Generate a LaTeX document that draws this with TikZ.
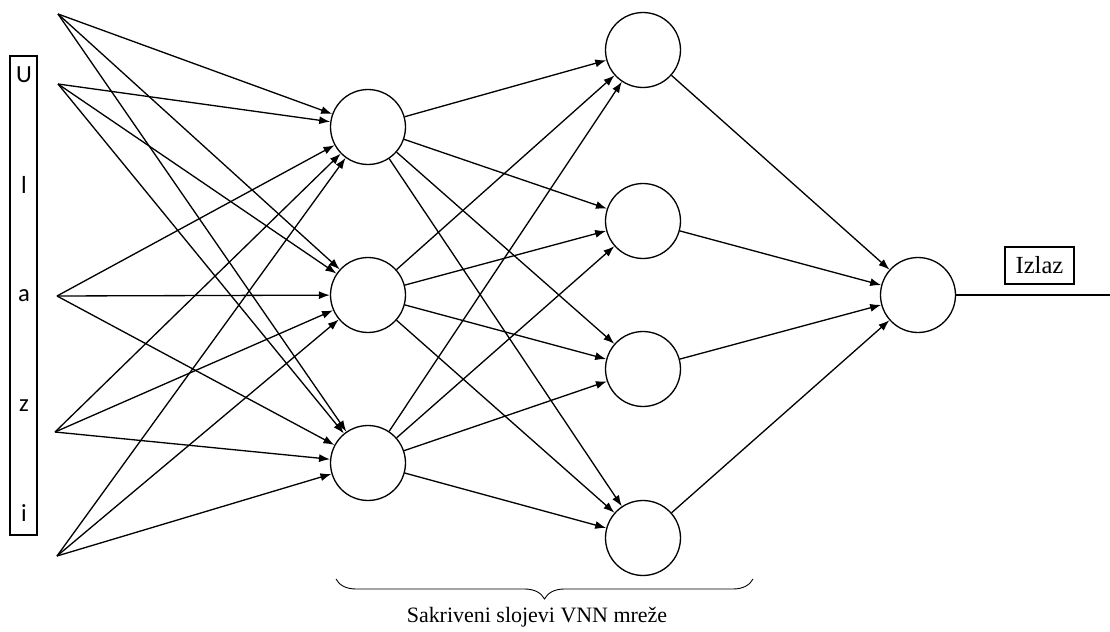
\documentclass[tikz,border=0pt]{standalone}
\usepackage{fontspec}
\setmainfont{Liberation Serif}
\newfontfamily\letterfont{Carlito}
\usetikzlibrary{arrows.meta,decorations.pathreplacing}
\begin{document}
\begin{tikzpicture}[x=0.02cm,y=-0.02cm,
  neuron/.style={circle,draw,line width=0.75pt,minimum size=1.5cm,inner sep=0pt},
  link/.style={line width=0.75pt,-{Latex[length=2.2mm,width=1.6mm]}},
  wire/.style={line width=0.75pt},
  letter/.style={font=\letterfont\fontsize{14}{17}\selectfont,inner sep=0pt},
  caption/.style={font=\fontsize{12.5}{15}\selectfont,inner sep=0pt}]
\useasboundingbox (0,0) rectangle (1110,632);

% input frame with the vertical word
\draw[line width=0.6pt] (10,56) rectangle (37,535);
\node[letter] (lU) at (24,75) {U};
\node[letter] (ll) at (24,185) {l};
\node[letter] (la) at (24,296) {a};
\node[letter] (lz) at (24,406) {z};
\node[letter] (li) at (24,513) {i};

% input points
\coordinate (i1) at (58,14);
\coordinate (i2) at (58,84);
\coordinate (i3) at (57,296);
\coordinate (i4) at (55,432);
\coordinate (i5) at (57,556);

% first hidden layer
\node[neuron] (a1) at (368,127) {};
\node[neuron] (a2) at (368,295) {};
\node[neuron] (a3) at (368,463) {};

% second hidden layer
\node[neuron] (b1) at (643,50) {};
\node[neuron] (b2) at (643,221) {};
\node[neuron] (b3) at (643,369) {};
\node[neuron] (b4) at (643,538) {};

% output neuron
\node[neuron] (o) at (918,295) {};
\coordinate (oend) at (1110,295);

% connections
\foreach \i in {i1,i2,i3,i4,i5}
  \foreach \a in {a1,a2,a3}
    \draw[link] (\i) -- (\a);
\foreach \a in {a1,a2,a3}
  \foreach \b in {b1,b2,b3,b4}
    \draw[link] (\a) -- (\b);
\foreach \b in {b1,b2,b3,b4}
  \draw[link] (\b) -- (o);
\draw[wire] (o) -- (oend);

% output label
\node[draw,line width=0.6pt,font=\fontsize{14}{17}\selectfont,inner sep=0pt,minimum width=1.38cm,minimum height=0.74cm] (izlaz) at (1039.5,265.5) {Izlaz};

% hidden layers brace
\coordinate (bl) at (336,579);
\coordinate (br) at (753,579);
\draw[line width=0.5pt,decorate,decoration={brace,mirror,amplitude=0.4cm}] (bl) -- (br);
\node[caption] (hid) at (537,617) {Sakriveni slojevi VNN mreže};
\end{tikzpicture}
\end{document}
